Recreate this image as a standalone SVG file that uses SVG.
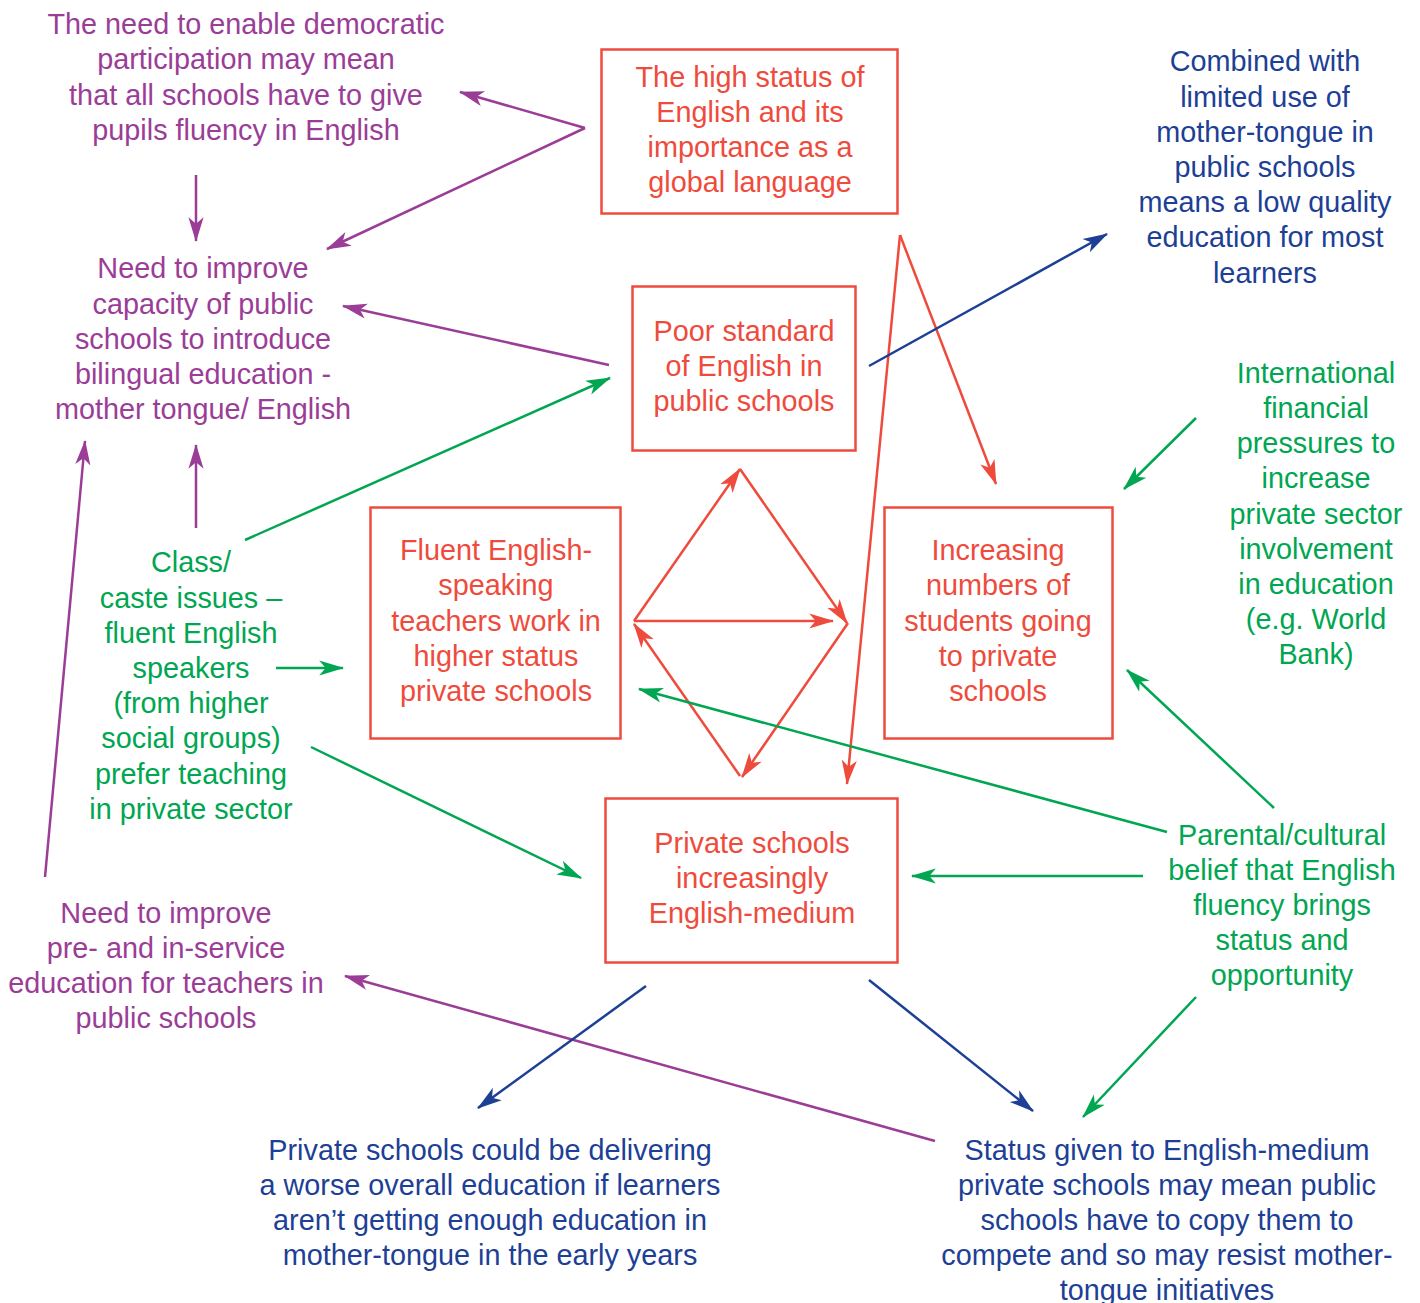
<svg xmlns="http://www.w3.org/2000/svg" width="1420" height="1303" viewBox="0 0 1420 1303">
<style>
text{font-family:"Liberation Sans",Arial,sans-serif;font-size:28.8px;text-anchor:middle}
.p{fill:#9b3d97}.r{fill:#ef4b3c}.g{fill:#00a651}.b{fill:#1d3f95}
.box{fill:none;stroke:#ef4b3c;stroke-width:2.5}
line{stroke-width:2.5;fill:none}
.lp{stroke:#9b3d97}.lr{stroke:#ef4b3c}.lg{stroke:#00a651}.lb{stroke:#1d3f95}
</style>
<defs>
<marker id="ap" markerUnits="userSpaceOnUse" markerWidth="26" markerHeight="18" viewBox="0 -8 24 16" refX="22" refY="0" orient="auto"><path d="M0,-7 L23,0 L0,7 L6,0 z" fill="#9b3d97"/></marker>
<marker id="ar" markerUnits="userSpaceOnUse" markerWidth="26" markerHeight="18" viewBox="0 -8 24 16" refX="22" refY="0" orient="auto"><path d="M0,-7 L23,0 L0,7 L6,0 z" fill="#ef4b3c"/></marker>
<marker id="ag" markerUnits="userSpaceOnUse" markerWidth="26" markerHeight="18" viewBox="0 -8 24 16" refX="22" refY="0" orient="auto"><path d="M0,-7 L23,0 L0,7 L6,0 z" fill="#00a651"/></marker>
<marker id="ab" markerUnits="userSpaceOnUse" markerWidth="26" markerHeight="18" viewBox="0 -8 24 16" refX="22" refY="0" orient="auto"><path d="M0,-7 L23,0 L0,7 L6,0 z" fill="#1d3f95"/></marker>
</defs>
<rect width="1420" height="1303" fill="#fff"/>
<g id="connectors">
<line class="lp" x1="585" y1="128" x2="460" y2="92" marker-end="url(#ap)"/>
<line class="lp" x1="585" y1="128" x2="327" y2="249" marker-end="url(#ap)"/>
<line class="lp" x1="196" y1="175" x2="196" y2="241" marker-end="url(#ap)"/>
<line class="lp" x1="609" y1="365" x2="343" y2="306" marker-end="url(#ap)"/>
<line class="lp" x1="196" y1="528" x2="196" y2="445" marker-end="url(#ap)"/>
<line class="lp" x1="45" y1="877" x2="85" y2="441" marker-end="url(#ap)"/>
<line class="lp" x1="935" y1="1141" x2="345" y2="976" marker-end="url(#ap)"/>
<line class="lr" x1="900" y1="235" x2="996" y2="484" marker-end="url(#ar)"/>
<line class="lr" x1="900" y1="235" x2="847" y2="784" marker-end="url(#ar)"/>
<line class="lr" x1="634" y1="621" x2="740" y2="469" marker-end="url(#ar)"/>
<line class="lr" x1="740" y1="469" x2="847" y2="623" marker-end="url(#ar)"/>
<line class="lr" x1="634" y1="621" x2="833" y2="621" marker-end="url(#ar)"/>
<line class="lr" x1="848" y1="623" x2="742" y2="777" marker-end="url(#ar)"/>
<line class="lr" x1="740" y1="776" x2="634" y2="624" marker-end="url(#ar)"/>
<line class="lg" x1="245" y1="540" x2="610" y2="378" marker-end="url(#ag)"/>
<line class="lg" x1="276" y1="668" x2="343" y2="668" marker-end="url(#ag)"/>
<line class="lg" x1="311" y1="747" x2="581" y2="878" marker-end="url(#ag)"/>
<line class="lg" x1="1196" y1="418" x2="1124" y2="489" marker-end="url(#ag)"/>
<line class="lg" x1="1274" y1="808" x2="1127" y2="670" marker-end="url(#ag)"/>
<line class="lg" x1="1167" y1="832" x2="639" y2="689" marker-end="url(#ag)"/>
<line class="lg" x1="1143" y1="876" x2="912" y2="876" marker-end="url(#ag)"/>
<line class="lg" x1="1196" y1="997" x2="1083" y2="1117" marker-end="url(#ag)"/>
<line class="lb" x1="869" y1="366" x2="1107" y2="234" marker-end="url(#ab)"/>
<line class="lb" x1="646" y1="986" x2="478" y2="1108" marker-end="url(#ab)"/>
<line class="lb" x1="869" y1="980" x2="1033" y2="1111" marker-end="url(#ab)"/>
</g>
<g id="n-democratic" class="p"><text x="246" y="34">The need to enable democratic</text><text x="246" y="69">participation may mean</text><text x="246" y="105">that all schools have to give</text><text x="246" y="140">pupils fluency in English</text></g>
<g id="n-capacity" class="p"><text x="203" y="278">Need to improve</text><text x="203" y="314">capacity of public</text><text x="203" y="349">schools to introduce</text><text x="203" y="384">bilingual education -</text><text x="203" y="419">mother tongue/ English</text></g>
<g id="n-status"><rect class="box" x="601.5" y="49.5" width="296" height="164"/><g class="r"><text x="750" y="87">The high status of</text><text x="750" y="122">English and its</text><text x="750" y="157">importance as a</text><text x="750" y="192">global language</text></g></g>
<g id="n-poor"><rect class="box" x="632.5" y="286.5" width="223" height="164"/><g class="r"><text x="744" y="341">Poor standard</text><text x="744" y="376">of English in</text><text x="744" y="411">public schools</text></g></g>
<g id="n-fluent"><rect class="box" x="370.5" y="507.5" width="250" height="231"/><g class="r"><text x="496" y="560">Fluent English-</text><text x="496" y="595">speaking</text><text x="496" y="631">teachers work in</text><text x="496" y="666">higher status</text><text x="496" y="701">private schools</text></g></g>
<g id="n-increasing"><rect class="box" x="884.5" y="507.5" width="228" height="231"/><g class="r"><text x="998" y="560">Increasing</text><text x="998" y="595">numbers of</text><text x="998" y="631">students going</text><text x="998" y="666">to private</text><text x="998" y="701">schools</text></g></g>
<g id="n-private"><rect class="box" x="605.5" y="798.5" width="292" height="164"/><g class="r"><text x="752" y="853">Private schools</text><text x="752" y="888">increasingly</text><text x="752" y="923">English-medium</text></g></g>
<g id="n-combined" class="b"><text x="1265" y="71">Combined with</text><text x="1265" y="107">limited use of</text><text x="1265" y="142">mother-tongue in</text><text x="1265" y="177">public schools</text><text x="1265" y="212">means a low quality</text><text x="1265" y="247">education for most</text><text x="1265" y="283">learners</text></g>
<g id="n-international" class="g"><text x="1316" y="383">International</text><text x="1316" y="418">financial</text><text x="1316" y="453">pressures to</text><text x="1316" y="488">increase</text><text x="1316" y="524">private sector</text><text x="1316" y="559">involvement</text><text x="1316" y="594">in education</text><text x="1316" y="629">(e.g. World</text><text x="1316" y="664">Bank)</text></g>
<g id="n-class" class="g"><text x="191" y="572">Class/</text><text x="191" y="608">caste issues –</text><text x="191" y="643">fluent English</text><text x="191" y="678">speakers</text><text x="191" y="713">(from higher</text><text x="191" y="748">social groups)</text><text x="191" y="784">prefer teaching</text><text x="191" y="819">in private sector</text></g>
<g id="n-teachers" class="p"><text x="166" y="923">Need to improve</text><text x="166" y="958">pre- and in-service</text><text x="166" y="993">education for teachers in</text><text x="166" y="1028">public schools</text></g>
<g id="n-parental" class="g"><text x="1282" y="845">Parental/cultural</text><text x="1282" y="880">belief that English</text><text x="1282" y="915">fluency brings</text><text x="1282" y="950">status and</text><text x="1282" y="985">opportunity</text></g>
<g id="n-worse" class="b"><text x="490" y="1160">Private schools could be delivering</text><text x="490" y="1195">a worse overall education if learners</text><text x="490" y="1230">aren’t getting enough education in</text><text x="490" y="1265">mother-tongue in the early years</text></g>
<g id="n-copy" class="b"><text x="1167" y="1160">Status given to English-medium</text><text x="1167" y="1195">private schools may mean public</text><text x="1167" y="1230">schools have to copy them to</text><text x="1167" y="1265">compete and so may resist mother-</text><text x="1167" y="1300">tongue initiatives</text></g>
</svg>
